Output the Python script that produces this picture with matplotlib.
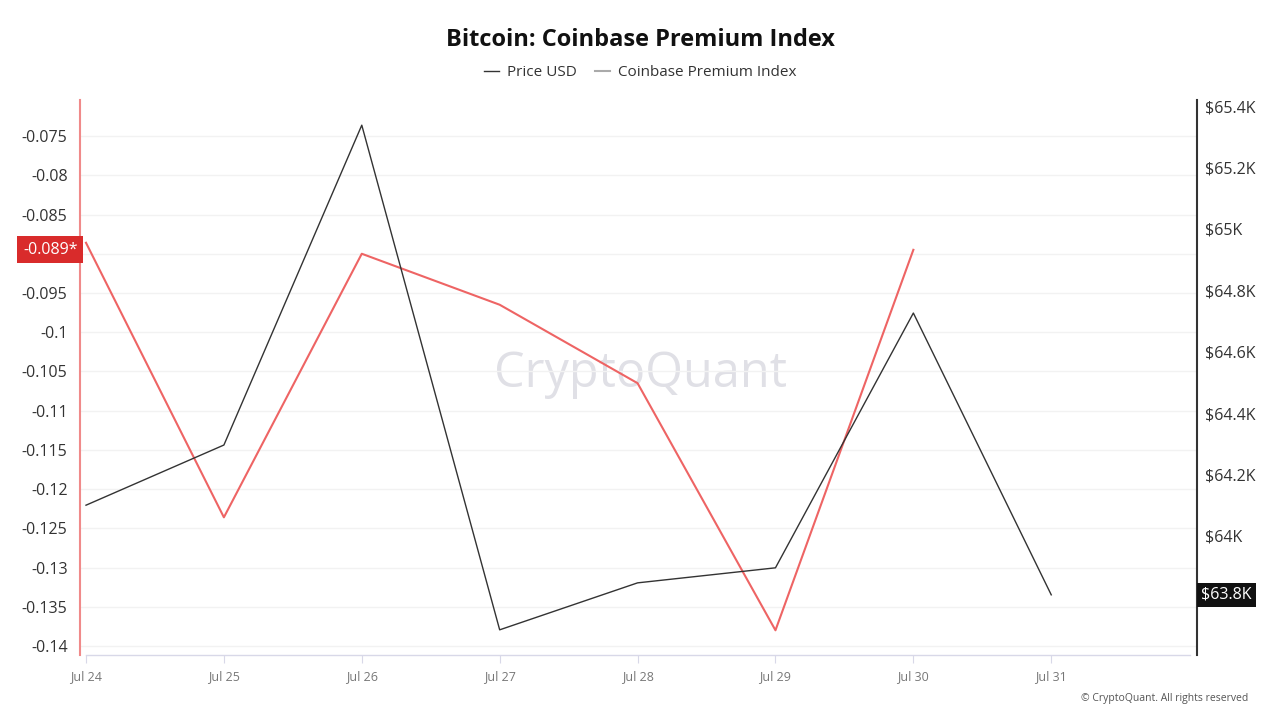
import numpy as np
import matplotlib.pyplot as plt
import matplotlib.dates as mdates
from matplotlib.lines import Line2D


dates = np.array([
    "2024-07-24", "2024-07-25", "2024-07-26", "2024-07-27",
    "2024-07-28", "2024-07-29", "2024-07-30", "2024-07-31",
], dtype="datetime64[D]")

price_usd = [64100, 64296, 65338, 63694, 63847, 63896, 64726, 63808]

premium_index = [-0.0886, -0.1236, -0.0900, -0.0965, -0.1065, -0.1380, -0.0895]

# -0.09 is hidden behind the last-value badge in the original
left_ticks = [-0.075, -0.08, -0.085, -0.09, -0.095, -0.1, -0.105, -0.11,
              -0.115, -0.12, -0.125, -0.13, -0.135, -0.14]
left_labels = ["-0.075", "-0.08", "-0.085", "", "-0.095", "-0.1", "-0.105",
               "-0.11", "-0.115", "-0.12", "-0.125", "-0.13", "-0.135", "-0.14"]

right_ticks = [64000, 64200, 64400, 64600, 64800, 65000, 65200, 65400]
right_labels = ["$64K", "$64.2K", "$64.4K", "$64.6K", "$64.8K", "$65K",
                "$65.2K", "$65.4K"]

plt.rcParams["font.family"] = ["Open Sans", "DejaVu Sans"]

RED = "#ee6464"
DARK = "#333333"

fig = plt.figure(figsize=(12.8, 7.2), dpi=100)
ax = fig.add_axes([80 / 1280, 65 / 720, 1117 / 1280, 555 / 720])
ax2 = ax.twinx()

x0 = mdates.date2num(dates[0])
ax.set_xlim(x0 - 0.0435, x0 + 8.057)

# premium index on the left axis
ax.plot(dates[:len(premium_index)], premium_index, color=RED, lw=1.5, zorder=3)
ax.set_ylim(-0.14115, -0.0704)
ax.set_yticks(left_ticks)
ax.set_yticklabels(left_labels)
ax.grid(axis="y", color="#f2f2f2", lw=1)
ax.set_axisbelow(True)

# price on the right axis
ax2.plot(dates, price_usd, color=DARK, lw=1.0, zorder=3)
ax2.set_ylim(63612, 65420)
ax2.set_yticks(right_ticks)
ax2.set_yticklabels(right_labels)

for a in (ax, ax2):
    for s in a.spines.values():
        s.set_visible(False)
ax.spines["left"].set_visible(True)
ax.spines["left"].set_color("#f08a8a")
ax.spines["left"].set_linewidth(1.5)
ax2.spines["right"].set_visible(True)
ax2.spines["right"].set_color(DARK)
ax2.spines["right"].set_linewidth(1.5)

ax.tick_params(axis="y", length=0, pad=9, labelsize=11.5, labelcolor="#333333")
ax2.tick_params(axis="y", length=0, pad=6, labelsize=11.5, labelcolor="#333333")

# x axis baseline and ticks
ax.plot([0.0054, 0.9937], [0, 0], transform=ax.transAxes, color="#d8d8e8",
        lw=1, clip_on=False)
ax.set_xticks(dates)
ax.set_xticklabels([d.astype(object).strftime("%b %d").replace(" 0", " ") for d in dates])
ax.tick_params(axis="x", length=6, color="#d8d8e8", labelsize=9,
               labelcolor="#777777", pad=5)

# last value badges
ax.text(-0.0022, premium_index[-1], "-0.089*", transform=ax.get_yaxis_transform(),
        ha="right", va="center", color="white", fontsize=11.5,
        bbox=dict(boxstyle="square,pad=0.35", fc="#d92b2b", ec="none"))
ax2.text(1.004, price_usd[-1], "$63.8K", transform=ax2.get_yaxis_transform(),
         ha="left", va="center", color="white", fontsize=11.5,
         bbox=dict(boxstyle="square,pad=0.25", fc="#111111", ec="none"))

# watermark
ax.text(0.502, 0.505, "CryptoQuant", transform=ax.transAxes, ha="center",
        va="center", fontsize=35, color="#e0e0e6", fontweight="medium", zorder=0)

fig.text(0.5, 0.945, "Bitcoin: Coinbase Premium Index", ha="center", va="center",
         fontsize=17, fontweight="bold", color="#111111")

handles = [
    Line2D([], [], color=DARK, lw=1),
    Line2D([], [], color="#aaaaaa", lw=1.5),
]
fig.legend(handles, ["Price USD", "Coinbase Premium Index"], loc="center",
           bbox_to_anchor=(0.5, 0.899), ncol=2, frameon=False, fontsize=11,
           handlelength=1.0, handletextpad=0.5, columnspacing=1.2,
           labelcolor="#333333")

fig.text(0.975, 0.03, "\u00a9 CryptoQuant. All rights reserved", ha="right",
         va="center", fontsize=7.5, color="#555555")

fig.savefig("out.png", dpi=100)
